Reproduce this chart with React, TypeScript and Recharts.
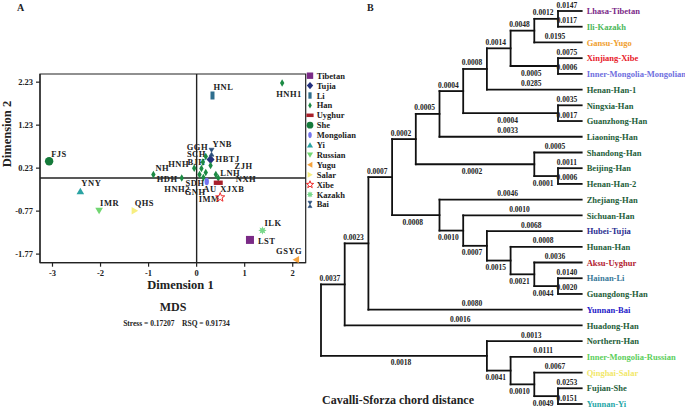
import React from 'react'
import { ScatterChart, Scatter, XAxis, YAxis, ReferenceLine, ReferenceArea } from 'recharts'

const SERIF = "'Liberation Serif', 'Times New Roman', Times, serif"

// ---- panel A: MDS
const GROUPS = ['Tibetan', 'Tujia', 'Li', 'Han', 'Uyghur', 'She', 'Mongolian', 'Yi', 'Russian', 'Yugu', 'Salar', 'Xibe', 'Kazakh', 'Bai']
const GROUP_COLORS = ['#7a2a86', '#23307e', '#2f6e8e', '#1c8a44', '#a8202a', '#157a3a', '#7474ee', '#2aa3a3', '#72d672', '#f5a23d', '#f7ee80', '#ee2b2b', '#78d88a', '#2a4e7a']

const POP_CODES = ['LST', 'HBTJ', 'HNL', 'HNH1', 'NH', 'HDH', 'HNH', 'SDH', 'BJH', 'SCH', 'HNH2', 'GNH', 'GGH', 'ZJH', 'LNH', 'NXH', 'AU', 'FJS', 'IMM', 'YNY', 'IMR', 'GSYG', 'QHS', 'XJXB', 'ILK', 'YNB']
const POP_GROUPS = ['Tibetan', 'Tujia', 'Li', 'Han', 'Han', 'Han', 'Han', 'Han', 'Han', 'Han', 'Han', 'Han', 'Han', 'Han', 'Han', 'Han', 'Uyghur', 'She', 'Mongolian', 'Yi', 'Russian', 'Yugu', 'Salar', 'Xibe', 'Kazakh', 'Bai']
const DIM1 = [1.11, 0.29, 0.33, 1.78, -0.9, -0.31, -0.05, 0.06, 0.1, 0.13, 0.14, 0.19, 0.19, 0.29, 0.45, 0.4, 0.45, -3.07, 0.21, -2.42, -2.03, 2.07, -1.29, 0.49, 1.37, 0.31]
const DIM2 = [-1.44, 0.43, 1.92, 2.21, 0.08, 0.0, 0.23, 0.08, 0.22, 0.37, 0.01, 0.13, 0.5, 0.29, 0.0, 0.08, -0.11, 0.39, -0.08, -0.31, -0.76, -1.9, -0.76, -0.45, -1.22, 0.6]

const X_TICKS = [-3, -2, -1, 0, 1, 2]
const Y_TICKS = [-1.77, -0.77, 0.23, 1.23, 2.23]
const X_DOMAIN: [number, number] = [-3.26, 2.27]
const Y_DOMAIN: [number, number] = [-1.97, 2.42]

// where each point label sits, in px from the marker
const LABEL_OFFSET: Record<string, [number, number]> = {
  LST: [8, 4], HBTJ: [5, 2.5], HNL: [1, -5], HNH1: [-6, 14], NH: [2, -4], HDH: [-25, 3.5],
  HNH: [-26, -1.5], SDH: [-14, 11], BJH: [-14, -4], SCH: [-16, -5], HNH2: [-39, 14], GNH: [-21, 23],
  GGH: [-19, -6.5], ZJH: [24, 3], LNH: [2, -2], NXH: [20, 7.5], AU: [-15, 9], FJS: [2, -4.5],
  IMM: [-8, 21], YNY: [1, -5], IMR: [1, -4.5], GSYG: [-20, -6], QHS: [0, -4.5], XJXB: [0, -5],
  ILK: [2, -4.5], YNB: [1, -5],
}

// ---- panel B: tree
const LEAVES = ['Lhasa-Tibetan', 'Ili-Kazakh', 'Gansu-Yugo', 'Xinjiang-Xibe', 'Inner-Mongolia-Mongolian', 'Henan-Han-1', 'Ningxia-Han', 'Guanzhong-Han', 'Liaoning-Han', 'Shandong-Han', 'Beijing-Han', 'Henan-Han-2', 'Zhejiang-Han', 'Sichuan-Han', 'Hubei-Tujia', 'Hunan-Han', 'Aksu-Uyghur', 'Hainan-Li', 'Guangdong-Han', 'Yunnan-Bai', 'Huadong-Han', 'Northern-Han', 'Inner-Mongolia-Russian', 'Qinghai-Salar', 'Fujian-She', 'Yunnan-Yi']
const LEAF_COLORS = ['#7b2a88', '#4cb85a', '#f0a030', '#e8202a', '#7070e0', '#1e5e3a', '#1e5e3a', '#1e5e3a', '#1e5e3a', '#1e5e3a', '#1e5e3a', '#1e5e3a', '#1e5e3a', '#1e5e3a', '#2e3192', '#1e5e3a', '#b22230', '#3a7a9a', '#1e5e3a', '#1e20c8', '#1e5e3a', '#1e5e3a', '#5ccf5c', '#f2e86a', '#1e5e3a', '#26a7a7']
const LEAF_LENGTHS = ['0.0147', '0.0117', '0.0195', '0.0075', '0.0006', '0.0285', '0.0035', '0.0017', '0.0033', '0.0005', '0.0011', '0.0006', '0.0046', '0.0010', '0.0068', '0.0008', '0.0036', '0.0140', '0.0020', '0.0080', '0.0016', '0.0013', '0.0111', '0.0067', '0.0253', '0.0151']
// [clade, upper child, lower child, branch length]
const CLADES: [string, string, string, string][] = [
  ['J', 'Lhasa-Tibetan', 'Ili-Kazakh', '0.0012'],
  ['I', 'J', 'Gansu-Yugo', '0.0048'],
  ['XM', 'Xinjiang-Xibe', 'Inner-Mongolia-Mongolian', '0.0005'],
  ['H', 'I', 'XM', '0.0014'],
  ['G', 'H', 'Henan-Han-1', '0.0008'],
  ['NG', 'Ningxia-Han', 'Guanzhong-Han', '0.0004'],
  ['F', 'G', 'NG', '0.0004'],
  ['E', 'F', 'Liaoning-Han', '0.0005'],
  ['BH', 'Beijing-Han', 'Henan-Han-2', '0.0001'],
  ['S', 'Shandong-Han', 'BH', '0.0002'],
  ['D', 'E', 'S', '0.0002'],
  ['HG', 'Hainan-Li', 'Guangdong-Han', '0.0044'],
  ['AK', 'Aksu-Uyghur', 'HG', '0.0021'],
  ['HN', 'Hunan-Han', 'AK', '0.0015'],
  ['HB', 'Hubei-Tujia', 'HN', '0.0007'],
  ['SC', 'Sichuan-Han', 'HB', '0.0010'],
  ['Z', 'Zhejiang-Han', 'SC', '0.0008'],
  ['C', 'D', 'Z', '0.0007'],
  ['B', 'C', 'Yunnan-Bai', '0.0023'],
  ['A', 'B', 'Huadong-Han', '0.0037'],
  ['SY', 'Fujian-She', 'Yunnan-Yi', '0.0049'],
  ['SA', 'Qinghai-Salar', 'SY', '0.0010'],
  ['R', 'Inner-Mongolia-Russian', 'SA', '0.0041'],
  ['N', 'Northern-Han', 'R', '0.0018'],
  ['root', 'A', 'N', ''],
]

// ---- tree layout (right-justified cladogram)
type NodeInfo = { h: number; y: number; leaf: boolean; len: string; parent?: string; lower?: boolean }
const nodes: Record<string, NodeInfo> = {}
LEAVES.forEach((n, i) => { nodes[n] = { h: 0, y: i, leaf: true, len: LEAF_LENGTHS[i] } })
CLADES.forEach(([id, a, b, len]) => {
  nodes[id] = { h: Math.max(nodes[a].h, nodes[b].h) + 1, y: (nodes[a].y + nodes[b].y) / 2, leaf: false, len }
  nodes[a].parent = id
  nodes[b].parent = id
  nodes[b].lower = true
})
const DEPTH = nodes.root.h
const lx = (id: string) => DEPTH - nodes[id].h

const segments: { x1: number; y1: number; x2: number; y2: number }[] = []
const branchLabels: { x: number; y: number; text: string; below: boolean }[] = []
Object.keys(nodes).forEach((id) => {
  const n = nodes[id]
  if (n.parent) {
    segments.push({ x1: lx(n.parent), y1: n.y, x2: lx(id), y2: n.y })
    branchLabels.push({ x: (lx(n.parent) + lx(id)) / 2, y: n.y, text: n.len, below: !!n.lower && !n.leaf })
  }
})
CLADES.forEach(([id, a, b]) => {
  segments.push({ x1: lx(id), y1: nodes[a].y, x2: lx(id), y2: nodes[b].y })
})
const LEAF_TICKS = LEAVES.map((_, i) => i)

function starPoints(cx: number, cy: number, n: number, ro: number, ri: number) {
  const pts: string[] = []
  for (let i = 0; i < n * 2; i++) {
    const r = i % 2 === 0 ? ro : ri
    const a = (Math.PI * i) / n - Math.PI / 2
    pts.push(`${cx + r * Math.cos(a)},${cy + r * Math.sin(a)}`)
  }
  return pts.join(' ')
}

function Marker({ group, cx, cy, s = 1 }: { group: string; cx: number; cy: number; s?: number }) {
  const c = GROUP_COLORS[GROUPS.indexOf(group)]
  switch (group) {
    case 'Tibetan':
      return <rect x={cx - 4 * s} y={cy - 4 * s} width={8 * s} height={8 * s} fill={c} />
    case 'Tujia':
      return <polygon points={`${cx},${cy - 4.5 * s} ${cx + 4 * s},${cy} ${cx},${cy + 4.5 * s} ${cx - 4 * s},${cy}`} fill={c} />
    case 'Li':
      return <rect x={cx - 2 * s} y={cy - 4 * s} width={4 * s} height={8 * s} fill={c} />
    case 'Han':
      return <polygon points={`${cx},${cy - 3.8 * s} ${cx + 2.2 * s},${cy} ${cx},${cy + 3.8 * s} ${cx - 2.2 * s},${cy}`} fill={c} />
    case 'Uyghur':
      return <rect x={cx - 4.5 * s} y={cy - 2.2 * s} width={9 * s} height={4.4 * s} fill={c} />
    case 'She':
      return <circle cx={cx} cy={cy} r={4.2 * s} fill={c} />
    case 'Mongolian':
      return <ellipse cx={cx} cy={cy} rx={2.2 * s} ry={3.8 * s} fill={c} />
    case 'Yi':
      return <polygon points={`${cx},${cy - 3.5 * s} ${cx + 3.8 * s},${cy + 3 * s} ${cx - 3.8 * s},${cy + 3 * s}`} fill={c} />
    case 'Russian':
      return <polygon points={`${cx},${cy + 3.5 * s} ${cx + 3.8 * s},${cy - 3 * s} ${cx - 3.8 * s},${cy - 3 * s}`} fill={c} />
    case 'Yugu':
      return <polygon points={`${cx - 3.5 * s},${cy} ${cx + 3 * s},${cy - 3.8 * s} ${cx + 3 * s},${cy + 3.8 * s}`} fill={c} />
    case 'Salar':
      return <polygon points={`${cx + 3.5 * s},${cy} ${cx - 3 * s},${cy - 3.8 * s} ${cx - 3 * s},${cy + 3.8 * s}`} fill={c} />
    case 'Xibe':
      return <polygon points={starPoints(cx, cy, 5, 4.8 * s, 2 * s)} fill="none" stroke={c} strokeWidth={1} />
    case 'Kazakh':
      return <polygon points={starPoints(cx, cy, 8, 4.2 * s, 2.2 * s)} fill={c} />
    default:
      return (
        <polygon points={`${cx - 2.5 * s},${cy - 4 * s} ${cx + 2.5 * s},${cy - 4 * s} ${cx},${cy} ${cx + 2.5 * s},${cy + 4 * s} ${cx - 2.5 * s},${cy + 4 * s} ${cx},${cy}`}
          fill={c} stroke={c} strokeWidth={0.6} />
      )
  }
}

function PointShape(props: any) {
  const { cx, cy, payload } = props
  const [dx, dy] = LABEL_OFFSET[payload.code] || [2, -5]
  return (
    <g>
      <Marker group={payload.group} cx={cx} cy={cy} />
      <text x={cx + dx} y={cy + dy} fontFamily={SERIF} fontWeight="bold" fontSize={8.5} letterSpacing={0.5} fill="#222">
        {payload.code}
      </text>
    </g>
  )
}

function BranchLabel(props: any) {
  const { cx, cy, payload } = props
  return (
    <text x={cx - 3} y={cy + (payload.below ? 9.5 : -3.5)} textAnchor="middle" fontFamily={SERIF} fontWeight="bold" fontSize={7.5} fill="#222">
      {payload.text}
    </text>
  )
}

function LeafTick(props: any) {
  const { x, y, payload } = props
  return (
    <text x={x} y={y} dy={3.2} fontFamily={SERIF} fontWeight="bold" fontSize={8.5} fill={LEAF_COLORS[payload.value]}>
      {LEAVES[payload.value]}
    </text>
  )
}

const pointsFor = (g: string) =>
  POP_CODES.map((code, i) => ({ code, group: POP_GROUPS[i], x: DIM1[i], y: DIM2[i] })).filter((p) => p.group === g)

const axisTick = { fontFamily: SERIF, fontWeight: 'bold', fontSize: 8.5, fill: '#222' }

export default function App() {
  return (
    <div style={{ position: 'absolute', left: 0, top: 0, width: 685, height: 409, background: '#fff', fontFamily: SERIF }}>
      <div style={{ position: 'absolute', left: 0, top: 0 }}>
        <ScatterChart width={370} height={409} margin={{ top: 74, right: 64.3, bottom: 126.3, left: 0 }}>
          <XAxis type="number" dataKey="x" domain={X_DOMAIN} ticks={X_TICKS} allowDataOverflow height={20}
            tick={axisTick} tickSize={4} tickMargin={3} stroke="#222" strokeWidth={1.2} />
          <YAxis type="number" dataKey="y" domain={Y_DOMAIN} ticks={Y_TICKS} allowDataOverflow width={40}
            tick={axisTick} tickSize={4} tickMargin={3} stroke="#222" strokeWidth={1.2}
            tickFormatter={(v: number) => v.toFixed(2)} />
          <ReferenceArea x1={X_DOMAIN[0]} x2={X_DOMAIN[1]} y1={Y_DOMAIN[0]} y2={Y_DOMAIN[1]} fill="none" fillOpacity={0} stroke="#222" strokeWidth={1.2} />
          <ReferenceLine x={0} stroke="#222" strokeWidth={1.4} />
          <ReferenceLine y={0} stroke="#222" strokeWidth={1.4} />
          {GROUPS.map((g) => (
            <Scatter key={g} name={g} data={pointsFor(g)} isAnimationActive={false} shape={(p: any) => <PointShape {...p} />} />
          ))}
        </ScatterChart>
      </div>

      <svg width={70} height={145} style={{ position: 'absolute', left: 304, top: 68 }}>
        {GROUPS.map((g, i) => (
          <g key={g}>
            <Marker group={g} cx={6} cy={7.7 + i * 9.9} s={0.8} />
            <text x={12.7} y={7.7 + i * 9.9 + 3} fontFamily={SERIF} fontWeight="bold" fontSize={8.5} fill="#222">{g}</text>
          </g>
        ))}
      </svg>

      <div style={{ position: 'absolute', left: 300, top: 0 }}>
        <ScatterChart width={385} height={409} margin={{ top: 11, right: 0, bottom: 5, left: 21 }}>
          <XAxis type="number" dataKey="x" domain={[0, DEPTH]} hide />
          <YAxis type="number" dataKey="y" domain={[0, LEAVES.length - 1]} reversed orientation="right" width={103.3}
            ticks={LEAF_TICKS} interval={0} axisLine={false} tickLine={false} tickSize={0} tickMargin={5} tick={<LeafTick />} />
          {segments.map((s, i) => (
            <ReferenceLine key={i} segment={[{ x: s.x1, y: s.y1 }, { x: s.x2, y: s.y2 }]} stroke="#111" strokeWidth={1.8} strokeLinecap="square" ifOverflow="visible" />
          ))}
          <Scatter data={branchLabels} dataKey="y" isAnimationActive={false} shape={(p: any) => <BranchLabel {...p} />} />
        </ScatterChart>
      </div>

      <svg width={685} height={409} style={{ position: 'absolute', left: 0, top: 0, pointerEvents: 'none' }}>
        <g fontFamily={SERIF} fontWeight="bold" fill="#222">
          <text x={17} y={11} fontSize={10}>A</text>
          <text x={367} y={11} fontSize={10}>B</text>
          <text x={180.5} y={289} fontSize={12.5} textAnchor="middle">Dimension 1</text>
          <text x={10.5} y={134} fontSize={12.5} textAnchor="middle" transform="rotate(-90 10.5 134)">Dimension 2</text>
          <text x={173} y={311} fontSize={12} textAnchor="middle">MDS</text>
          <text x={176.5} y={326} fontSize={7.5} textAnchor="middle" xmlSpace="preserve">Stress = 0.17207    RSQ = 0.91734</text>
          <text x={398} y={404} fontSize={12} textAnchor="middle">Cavalli-Sforza chord distance</text>
        </g>
      </svg>
    </div>
  )
}
